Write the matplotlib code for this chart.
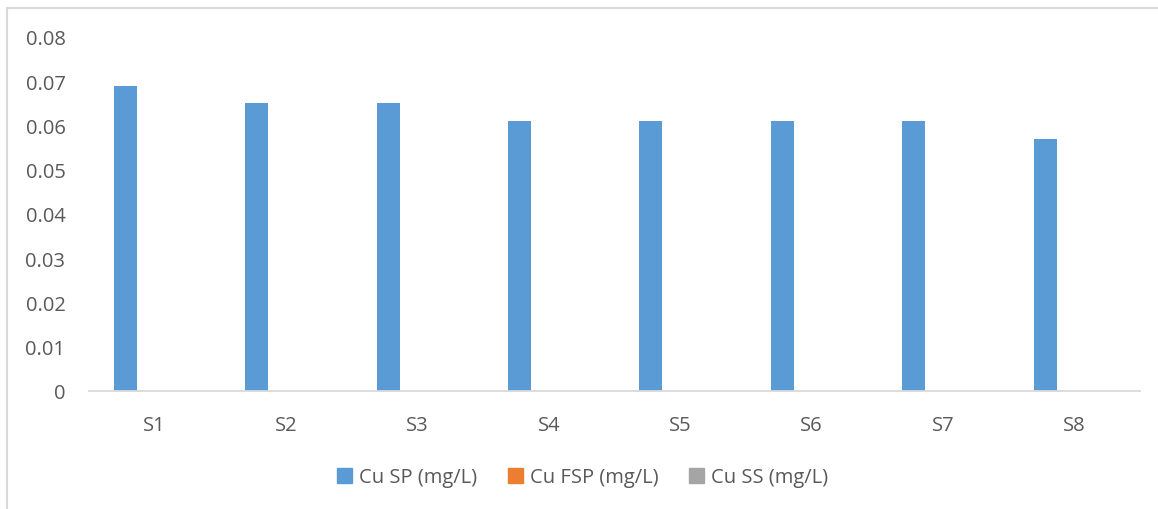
import numpy as np
import matplotlib
matplotlib.use("Agg")
import matplotlib.pyplot as plt
from matplotlib.lines import Line2D

sites = ["S1", "S2", "S3", "S4", "S5", "S6", "S7", "S8"]
cu_sp = [0.069, 0.065, 0.065, 0.061, 0.061, 0.061, 0.061, 0.057]
cu_fsp = [0, 0, 0, 0, 0, 0, 0, 0]
cu_ss = [0, 0, 0, 0, 0, 0, 0, 0]
series_names = ["Cu SP (mg/L)", "Cu FSP (mg/L)", "Cu SS (mg/L)"]
yticks = [0, 0.01, 0.02, 0.03, 0.04, 0.05, 0.06, 0.07, 0.08]

COLORS = ["#5B9BD5", "#ED7D31", "#A5A5A5"]
TXT = "#595959"
plt.rcParams["font.family"] = ["Open Sans", "DejaVu Sans"]

fig = plt.figure(figsize=(11.58, 5.10), dpi=100)
ax = fig.add_axes([0.0769, 0.2314, 0.9076, 0.6941])

x = np.arange(len(sites))
w, step = 0.175, 0.223
for i, (vals, col, name) in enumerate(zip([cu_sp, cu_fsp, cu_ss], COLORS, series_names)):
    ax.bar(x + (i - 1) * step, vals, w, color=col, label=name, zorder=2)

ax.set_xlim(-0.5, len(sites) - 0.5)
ax.set_ylim(0, 0.08)
ax.set_yticks(yticks)
ax.set_yticklabels([f"{v:g}" for v in yticks])
ax.set_xticks(x)
ax.set_xticklabels(sites)
for s in ["top", "right", "left"]:
    ax.spines[s].set_visible(False)
ax.spines["bottom"].set_color("#D9D9D9")
ax.spines["bottom"].set_linewidth(1.3)
ax.tick_params(axis="both", length=0, labelsize=14.5, colors=TXT)
ax.tick_params(axis="y", pad=17)
ax.tick_params(axis="x", pad=17)

handles = [plt.Rectangle((0, 0), 1, 1, color=c) for c in COLORS]
fig.legend(handles, series_names, loc="center", bbox_to_anchor=(0.503, 0.062), ncol=3,
           frameon=False, fontsize=14.5, labelcolor=TXT, handlelength=0.75, handleheight=0.75,
           handletextpad=0.35, columnspacing=1.5)

# chart area border (left and top edges)
fig.add_artist(Line2D([0.0060, 0.0060], [0, 0.982], color="#D9D9D9", lw=1.5))
fig.add_artist(Line2D([0.0060, 1.0], [0.982, 0.982], color="#D9D9D9", lw=1.5))

fig.savefig("out.png", dpi=100)
